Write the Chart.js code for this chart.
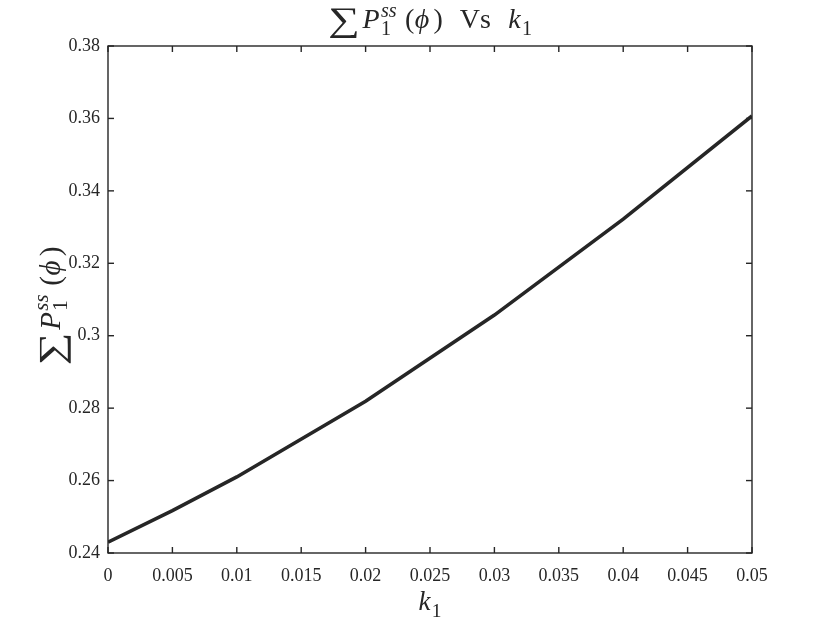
<!DOCTYPE html>
<html>
<head>
<meta charset="utf-8">
<script src="https://cdn.jsdelivr.net/npm/chart.js@4/dist/chart.umd.min.js"></script>
<style>
  html, body { margin: 0; padding: 0; background: #fff; }
  #wrap { width: 830px; height: 623px; }
</style>
</head>
<body>
<div id="wrap"><canvas id="sumChart" width="830" height="623"></canvas></div>
<script>
const k1 = [0, 0.005, 0.01, 0.02, 0.03, 0.04, 0.05];
const sumP = [0.2430, 0.2517, 0.2610, 0.2819, 0.3057, 0.3322, 0.3607];
const xRange = [0, 0.05, 0.005];
const yRange = [0.24, 0.38, 0.02];

// math-ish labels: i = italic, big = large operator, g = gap after (em), sup/sub = stacked scripts
const titleParts = [
  {t: '\u2211', big: 1, g: 0.1}, {t: 'P', i: 1, g: 0.05}, {sup: 'ss', sub: '1', g: 0.3},
  {t: '(', g: 0.02}, {t: '\u03d5', i: 1, g: 0.15}, {t: ')', g: 0.6}, {t: 'Vs', g: 0.62}, {t: 'k', i: 1, g: 0.05}, {sub: '1'}
];
const yLabelParts = [
  {t: '\u2211', big: 1, g: 0.1}, {t: 'P', i: 1, g: 0.05}, {sup: 'ss', sub: '1', g: 0.3},
  {t: '(', g: 0.02}, {t: '\u03d5', i: 1, g: 0.15}, {t: ')'}
];
const xLabelParts = [{t: 'k', i: 1, g: 0.05}, {sub: '1'}];

const FONT = '"Liberation Serif", "DejaVu Serif", serif';
const INK = '#262626';
const BIG = 1.22, STRETCH = 1.3;

function fnt(size, it){ return (it ? 'italic ' : '') + size + 'px ' + FONT; }

function partWidth(ctx, p, size){
  let w = 0;
  if (p.t !== undefined) {
    ctx.font = fnt(p.big ? size*BIG : size, p.i);
    w = ctx.measureText(p.t).width * (p.big ? STRETCH : 1);
  } else {
    const s = size*0.72;
    if (p.sup) { ctx.font = fnt(s, true); w = Math.max(w, ctx.measureText(p.sup).width); }
    if (p.sub) { ctx.font = fnt(s, false); w = Math.max(w, ctx.measureText(p.sub).width); }
  }
  return w + (p.g || 0)*size;
}

function drawRich(ctx, parts, cx, base, size){
  let total = 0;
  parts.forEach(p => total += partWidth(ctx, p, size));
  let x = cx - total/2;
  ctx.textBaseline = 'alphabetic';
  ctx.textAlign = 'left';
  ctx.fillStyle = INK;
  parts.forEach(p => {
    const w = partWidth(ctx, p, size);
    if (p.t !== undefined) {
      ctx.font = fnt(p.big ? size*BIG : size, p.i);
      if (p.big) {
        ctx.save();
        ctx.translate(x, base + size*0.1);
        ctx.scale(STRETCH, 1);
        ctx.fillText(p.t, 0, 0);
        ctx.restore();
      } else {
        ctx.fillText(p.t, x, base);
      }
    } else {
      const s = size*0.72;
      if (p.sup) { ctx.font = fnt(s, true); ctx.fillText(p.sup, x, base - size*0.4); }
      if (p.sub) { ctx.font = fnt(s, false); ctx.fillText(p.sub, x, base + size*0.25); }
    }
    x += w;
  });
}

const frame = {
  id: 'frame',
  afterDraw(chart){
    const {ctx, chartArea: a, scales: {x, y}} = chart;
    const line = (x0, y0, x1, y1) => { ctx.beginPath(); ctx.moveTo(x0, y0); ctx.lineTo(x1, y1); ctx.stroke(); };
    ctx.save();
    ctx.strokeStyle = INK;
    ctx.lineWidth = 1.4;
    ctx.strokeRect(a.left, a.top, a.right - a.left, a.bottom - a.top);
    const L = 6;
    x.ticks.forEach(t => {
      const px = x.getPixelForValue(t.value);
      line(px, a.bottom, px, a.bottom - L);
      line(px, a.top, px, a.top + L);
    });
    y.ticks.forEach(t => {
      const py = y.getPixelForValue(t.value);
      line(a.left, py, a.left + L, py);
      line(a.right, py, a.right - L, py);
    });
    const mid = (a.left + a.right)/2;
    drawRich(ctx, titleParts, mid, 28, 28);
    drawRich(ctx, xLabelParts, mid, 610, 27);
    ctx.translate(60, 306);
    ctx.rotate(-Math.PI/2);
    drawRich(ctx, yLabelParts, 0, 0, 29);
    ctx.restore();
  }
};

const fmt = v => String(parseFloat(Number(v).toFixed(4)));

new Chart(document.getElementById('sumChart'), {
  type: 'line',
  data: {
    datasets: [{
      data: k1.map((k, i) => ({x: k, y: sumP[i]})),
      borderColor: INK,
      borderWidth: 3.6,
      pointRadius: 0,
      tension: 0,
      fill: false
    }]
  },
  options: {
    responsive: false,
    animation: false,
    layout: { padding: { left: 0, right: 78, top: 46, bottom: 0 } },
    plugins: { legend: { display: false }, tooltip: { enabled: false } },
    scales: {
      x: {
        type: 'linear',
        min: xRange[0], max: xRange[1],
        grid: { display: false },
        border: { display: false },
        afterFit: s => { s.height = 70; },
        ticks: { stepSize: xRange[2], padding: 4, color: INK, font: { family: FONT, size: 18 }, callback: fmt, maxRotation: 0, autoSkip: false }
      },
      y: {
        min: yRange[0], max: yRange[1],
        grid: { display: false },
        border: { display: false },
        afterFit: s => { s.width = 108; },
        ticks: { stepSize: yRange[2], padding: 0, color: INK, font: { family: FONT, size: 18 }, callback: fmt }
      }
    }
  },
  plugins: [frame]
});
</script>
</body>
</html>
